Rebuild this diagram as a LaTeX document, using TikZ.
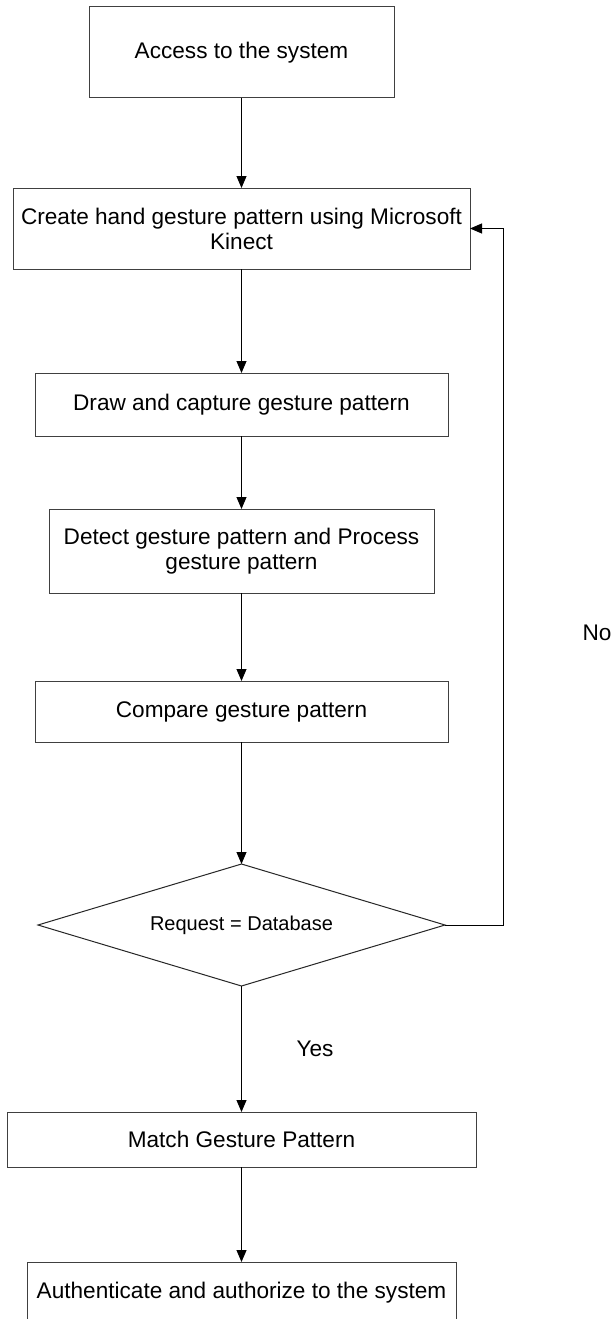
\documentclass[tikz,border=0pt]{standalone}
\usepackage{fontspec}
\setmainfont{Liberation Sans}
\usetikzlibrary{arrows.meta,shapes.geometric}
\tikzset{
  stepbox/.style={draw=black!75, line width=1pt, rectangle, inner sep=0pt, outer sep=0pt,
    align=center, font=\fontsize{22.6}{25}\selectfont},
  decision/.style={draw=black!85, line width=1pt, diamond, aspect=3.34, inner sep=0pt, outer sep=0pt,
    minimum width=407pt, minimum height=122pt, font=\fontsize{20}{23}\selectfont},
  flow/.style={draw=black, line width=1pt, -{Triangle[length=12pt,width=10pt]}},
  lbl/.style={font=\fontsize{22.6}{25}\selectfont, inner sep=0pt}
}
\begin{document}
\begin{tikzpicture}[x=1pt,y=-1pt]
\clip (0,0) rectangle (613,1319);
\fill[white] (0,0) rectangle (613,1319);
\node[stepbox, minimum width=305pt, minimum height=91pt] (b1) at (241.5,52.5) {Access to the system};
\node[stepbox, minimum width=457pt, minimum height=81pt] (b2) at (241.5,228.5) {Create hand gesture pattern using Microsoft\\Kinect};
\node[stepbox, minimum width=413pt, minimum height=63pt] (b3) at (241.5,404.5) {Draw and capture gesture pattern};
\node[stepbox, minimum width=385pt, minimum height=84pt] (b4) at (241.5,551) {Detect gesture pattern and Process\\gesture pattern};
\node[stepbox, minimum width=413pt, minimum height=61pt] (b5) at (241.5,711.5) {Compare gesture pattern};
\node[decision] (d) at (241.5,925) {Request = Database};
\node[stepbox, minimum width=469pt, minimum height=55pt] (b6) at (241.5,1139.5) {Match Gesture Pattern};
\node[stepbox, minimum width=429pt, minimum height=62pt] (b7) at (241.5,1293) {Authenticate and authorize to the system};
\coordinate (loopx) at (503,925);
\draw[flow] (b1) -- (b2);
\draw[flow] (b2) -- (b3);
\draw[flow] (b3) -- (b4);
\draw[flow] (b4) -- (b5);
\draw[flow] (b5) -- (d);
\draw[flow] (d) -- (b6);
\draw[flow] (b6) -- (b7);
\draw[flow] (d.east) -- (loopx) |- (b2.east);
\node[lbl] (no) at (597,633) {No};
\node[lbl] (yes) at (315,1049) {Yes};
\end{tikzpicture}
\end{document}
